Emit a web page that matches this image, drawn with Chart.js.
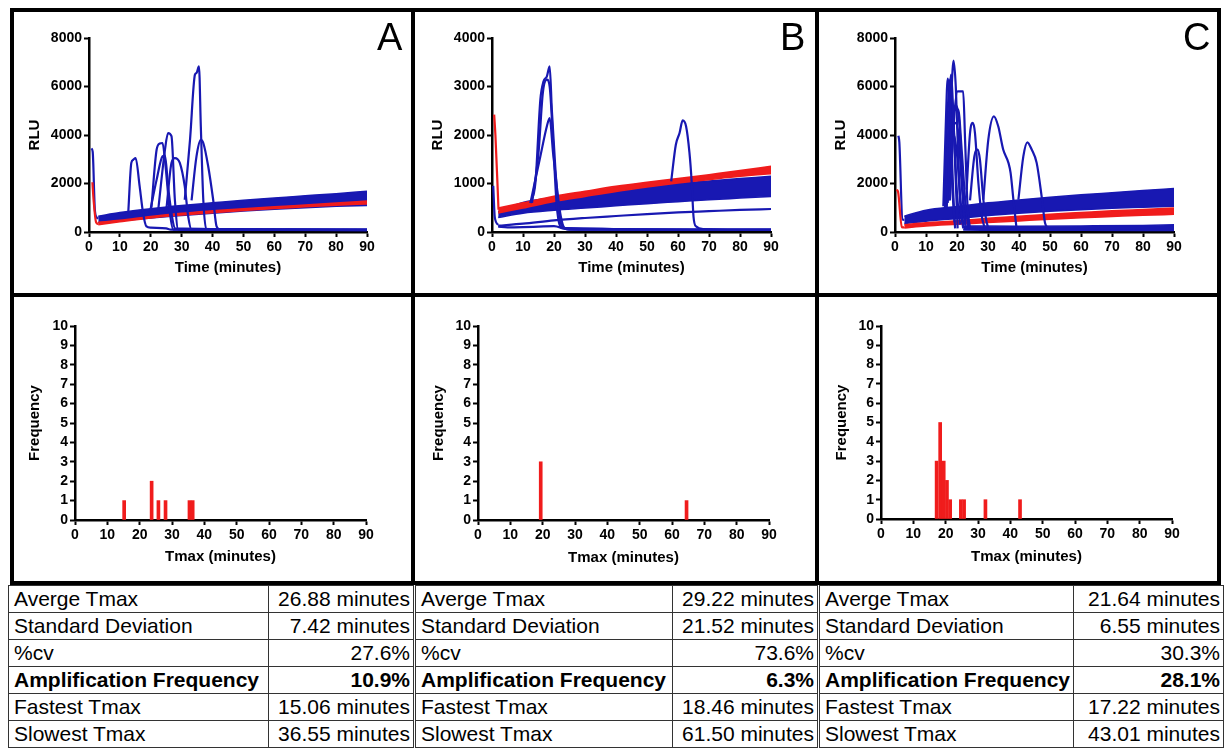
<!DOCTYPE html>
<html>
<head>
<meta charset="utf-8">
<script src="https://cdn.jsdelivr.net/npm/chart.js@4.4.1/dist/chart.umd.min.js"></script>
<style>
  body { margin: 0; background: #fff; width: 1224px; height: 748px; position: relative; overflow: hidden;
         font-family: 'Liberation Sans', Arial, sans-serif; }
  canvas { position: absolute; }
  .frame { position: absolute; background: #000; }
  .letter { position: absolute; font-size: 38px; line-height: 38px; color: #000; }
  table.stats { position: absolute; top: 585px; border-collapse: collapse; table-layout: fixed; font-size: 21px; color: #000; }
  table.stats td { border: 1px solid #333; height: 26px; line-height: 26px; padding: 0; white-space: nowrap; overflow: hidden; }
  table.stats td.lab { padding-left: 5px; }
  table.stats td.val { text-align: right; padding-right: 3px; }
  table.stats tr.bold td { font-weight: bold; }
</style>
</head>
<body>

<div class="frame" style="left:10px;top:8px;width:1211px;height:4px"></div>
<div class="frame" style="left:10px;top:293px;width:1211px;height:4px"></div>
<div class="frame" style="left:10px;top:581px;width:1211px;height:4px"></div>
<div class="frame" style="left:10px;top:8px;width:4px;height:577px"></div>
<div class="frame" style="left:411px;top:8px;width:4px;height:577px"></div>
<div class="frame" style="left:815px;top:8px;width:4px;height:577px"></div>
<div class="frame" style="left:1217px;top:8px;width:4px;height:577px"></div>

<canvas id="lineA" width="397" height="281" style="left:14px;top:12px"></canvas>
<canvas id="lineB" width="398" height="281" style="left:417px;top:12px"></canvas>
<canvas id="lineC" width="396" height="281" style="left:821px;top:12px"></canvas>
<canvas id="histA" width="397" height="284" style="left:14px;top:297px"></canvas>
<canvas id="histB" width="398" height="284" style="left:417px;top:297px"></canvas>
<canvas id="histC" width="396" height="284" style="left:821px;top:297px"></canvas>

<div class="letter" style="left:377px;top:18px">A</div>
<div class="letter" style="left:780px;top:18px">B</div>
<div class="letter" style="left:1183px;top:18px">C</div>

<div id="tables"></div>

<script>
// ---- Datos: curvas RLU (tiempo en minutos, RLU) ----
// Panel A
const aBlueLow  = [[3,380],[10,470],[20,580],[30,680],[40,780],[50,870],[60,940],[70,1000],[80,1060],[90,1100]];
const aBlueHigh = [[3,650],[10,800],[20,960],[30,1090],[40,1200],[50,1310],[60,1400],[70,1490],[80,1580],[90,1680]];
const aRedLow   = [[3,300],[10,420],[20,580],[30,700],[40,800],[50,890],[60,970],[70,1040],[80,1110],[90,1160]];
const aRedHigh  = [[3,400],[10,480],[20,640],[30,770],[40,870],[50,960],[60,1040],[70,1110],[80,1190],[90,1280]];
const aBlueStart = [[0.8,3450],[1.2,3300],[1.9,900],[2.5,600],[3,550]];
const aRedStart  = [[1.1,2050],[1.5,1300],[2.3,400],[3,330]];
const aPeaks = [
  [[12.7,780],[13.7,2850],[14.3,2980],[15.1,3050],[16.4,1880],[17.5,780],[18.6,230],[20,180],[25,150],[26.5,100],[40,100],[90,80]],
  [[20.2,1000],[21.9,3400],[22.9,3650],[23.8,3670],[24.8,2700],[26.2,780],[27.3,100],[90,80]],
  [[19.7,800],[21.9,2160],[23.8,3120],[24.6,3150],[25.6,1880],[26.8,700],[27.8,150],[90,90]],
  [[22.4,900],[24.6,3400],[25.6,4080],[26.7,3950],[27.8,1330],[28.9,100],[90,90]],
  [[25.1,1000],[26.7,2850],[27.8,3050],[29.4,2850],[31,1880],[32.1,650],[33.2,100],[90,90]],
  [[31,1330],[32.7,3800],[34.3,6490],[34.8,6560],[35.6,6830],[36.2,4360],[37,1330],[38,100],[90,90]],
  [[33.2,1300],[34.8,3120],[36.2,3800],[37,3670],[38.6,2700],[40.2,1330],[41.3,230],[42.4,110],[90,100]]
];

// Panel B
const bBlueLow  = [[2,300],[10,390],[20,450],[30,495],[40,540],[50,585],[60,625],[70,665],[80,700],[90,735]];
const bBlueHigh = [[2,420],[10,610],[20,710],[30,800],[40,870],[50,940],[60,1000],[70,1050],[80,1100],[90,1150]];
const bRedLow   = [[2,392],[10,495],[20,630],[30,735],[40,838],[50,928],[60,1010],[70,1080],[80,1148],[90,1203]];
const bRedHigh  = [[2,495],[10,600],[20,735],[30,838],[40,940],[50,1024],[60,1100],[70,1182],[80,1265],[90,1354]];
const bBlueStart = [[0.4,950],[0.9,300],[2,150]];
const bRedStart  = [[0.7,2420],[1.1,2000],[2.1,460]];
const bLow = [
  [[2,130],[10,172],[20,240],[30,289],[40,330],[50,370],[60,405],[70,430],[80,455],[90,474]],
  [[2,110],[5,95],[10,100],[15,110],[20,120],[24,60],[30,50],[90,45]]
];
const bPeaks = [
  [[12.4,600],[14,1010],[15.6,2730],[16.6,3100],[17.7,3210],[18.6,3415],[19.3,2520],[20.4,1350],[21.5,460],[22.6,117],[25.2,50],[90,45]],
  [[12.9,600],[15,1630],[16.4,2870],[17.7,3140],[18.6,3000],[19.9,1630],[20.9,530],[22.6,80],[90,45]],
  [[12.4,600],[15.6,1560],[17.7,2180],[18.6,2350],[19.7,1630],[20.9,940],[22.2,320],[23.6,80],[90,45]],
  [[57.8,1045],[59.3,1800],[60.5,2040],[61.5,2300],[62.6,2180],[63.7,1630],[64.4,1045],[65,320],[65.8,117],[68.2,62],[90,50]]
];

// Panel C
const cBlueLow  = [[3,350],[10,450],[20,560],[30,680],[40,780],[50,860],[60,920],[70,980],[80,1020],[90,1060]];
const cBlueHigh = [[3,650],[10,900],[20,1050],[30,1200],[40,1320],[50,1430],[60,1530],[70,1620],[80,1710],[90,1790]];
const cRedLow   = [[3,170],[10,250],[20,320],[30,390],[40,460],[50,530],[60,590],[70,640],[80,690],[90,730]];
const cRedHigh  = [[3,300],[10,380],[20,460],[30,560],[40,650],[50,730],[60,800],[70,870],[80,930],[90,990]];
const cFloorLow  = [[22,80],[40,70],[60,70],[90,60]];
const cFloorHigh = [[22,250],[40,240],[60,250],[80,270],[90,300]];
const cBlueStart = [[1.1,3970],[1.4,3700],[2.4,520],[3,500]];
const cRedStart  = [[0.5,1750],[1,1650],[2.2,200],[3,190]];
const cPeaks = [
  [[15.6,1060],[16.3,4080],[17,6330],[17.7,5460],[18.5,1880],[19.4,150]],
  [[16.1,1000],[17.4,4770],[18.1,6490],[18.6,5460],[19.4,2750],[20.2,150]],
  [[16.7,1000],[18.1,5460],[18.9,7070],[19.6,6010],[20.2,3810],[21.1,1060],[22,150]],
  [[17.7,1300],[19.1,4770],[20.2,5800],[22,5800],[22.6,3810],[23.4,1060],[24.2,150]],
  [[17.2,1300],[19.1,5050],[20.4,5050],[21.5,3400],[22.8,1060],[23.7,150]],
  [[16.5,1200],[18,3500],[19.5,4500],[20.5,4000],[21.5,2000],[22.5,300]],
  [[16,1100],[17.5,3000],[19,4000],[20,3200],[21,1500],[22,250]],
  [[15.8,1100],[17,5000],[17.8,6300],[18.4,3000],[19.2,400]],
  [[16.3,1000],[17.2,3800],[18.2,5600],[19,4200],[20,1600],[21,300]],
  [[17,1200],[18.5,4300],[19.8,5200],[20.8,4400],[21.8,1800],[22.8,250]],
  [[23.1,1750],[24.2,4080],[25.1,4500],[25.8,4080],[26.9,2020],[28,650],[29,150]],
  [[24.2,1300],[25.6,3120],[26.7,3400],[27.4,2980],[28.5,1330],[29.4,510],[30.1,150]],
  [[28.5,1330],[30.1,3810],[31.9,4770],[33.3,4360],[34.9,3400],[36.6,2850],[37.3,2430],[38.2,1330],[39.2,150]],
  [[39.8,1330],[41.4,3120],[42.7,3700],[44.1,3400],[45.7,2850],[47.3,1470],[48.4,370],[49.5,150]]
];

// ---- Datos: histogramas de Tmax ----
const hAx = [15.2, 23.7, 25.8, 28.0, 35.4, 36.4];
const hAy = [1, 2, 1, 1, 1, 1];
const hBx = [19.4, 64.5];
const hBy = [3, 1];
const hCx = [17.2, 18.3, 19.4, 20.4, 21.4, 24.7, 25.7, 32.3, 43.0];
const hCy = [3, 5, 3, 2, 1, 1, 1, 1, 1];

// ---- Datos: tabla ----
const statLabels = ['Averge Tmax', 'Standard Deviation', '%cv', 'Amplification Frequency', 'Fastest Tmax', 'Slowest Tmax'];
const statsA = ['26.88 minutes', '7.42 minutes', '27.6%', '10.9%', '15.06 minutes', '36.55 minutes'];
const statsB = ['29.22 minutes', '21.52 minutes', '73.6%', '6.3%', '18.46 minutes', '61.50 minutes'];
const statsC = ['21.64 minutes', '6.55 minutes', '30.3%', '28.1%', '17.22 minutes', '43.01 minutes'];

const BLUE = '#1818b2';
const RED = '#f01c1c';
const tickFont = { family: 'Liberation Sans', size: 14, weight: 'bold' };
const titleFont = { family: 'Liberation Sans', size: 15, weight: 'bold' };

// ---- Ejes estilo Prism ----
function prismAxis(title, min, max, step, fitSize, horizontal) {
  return {
    type: 'linear', min, max, offset: false,
    ticks: { stepSize: step, font: tickFont, color: '#000', padding: horizontal ? 2 : 2,
             autoSkip: false, maxRotation: 0, callback: v => v },
    grid: { display: true, drawOnChartArea: false, drawTicks: true, tickLength: 5,
            tickWidth: 2, tickColor: '#000', offset: false },
    border: { display: true, color: '#000', width: 2.5 },
    title: { display: true, text: title, font: titleFont, color: '#000', padding: 0 },
    afterFit: s => { if (horizontal) s.height = fitSize; else s.width = fitSize; }
  };
}

function trace(data, color, width, order) {
  return { data, borderColor: color, borderWidth: width, pointRadius: 0, fill: false,
           cubicInterpolationMode: 'monotone', order };
}

// banda rellena entre dos curvas (low debe ir justo antes que high)
function band(low, high, color, order) {
  return [
    trace(low, color, 1.6, order),
    { ...trace(high, color, 1.6, order), fill: '-1', backgroundColor: color }
  ];
}

function lineChart(id, cfg) {
  const datasets = [
    ...cfg.peaks.map(p => trace(p, BLUE, 2.2, 1)),
    ...(cfg.low || []).map(p => trace(p, BLUE, 2.2, 2)),
    trace(cfg.redStart, RED, 2.2, 2),
    trace(cfg.blueStart, BLUE, 2.2, 3),
    ...band(cfg.redLow, cfg.redHigh, RED, 2),
    ...band(cfg.blueLow, cfg.blueHigh, BLUE, 3)
  ];
  if (cfg.floorLow) datasets.push(...band(cfg.floorLow, cfg.floorHigh, BLUE, 3));

  new Chart(document.getElementById(id), {
    type: 'line',
    data: { datasets },
    options: {
      responsive: false, animation: false, events: [],
      layout: { padding: cfg.padding },
      plugins: { legend: { display: false }, tooltip: { enabled: false } },
      scales: {
        x: prismAxis('Time (minutes)', 0, 90, 10, cfg.xh, true),
        y: prismAxis('RLU', 0, cfg.ymax, cfg.ystep, cfg.yw, false)
      }
    }
  });
}

function histChart(id, xs, ys, cfg) {
  new Chart(document.getElementById(id), {
    type: 'bar',
    data: {
      datasets: [{
        data: xs.map((x, i) => ({ x, y: ys[i] })),
        backgroundColor: RED, borderWidth: 0, barThickness: 3
      }]
    },
    options: {
      responsive: false, animation: false, events: [],
      layout: { padding: cfg.padding },
      plugins: { legend: { display: false }, tooltip: { enabled: false } },
      scales: {
        x: prismAxis('Tmax (minutes)', 0, 90, 10, cfg.xh, true),
        y: prismAxis('Frequency', 0, 10, 1, cfg.yw, false)
      }
    }
  });
}

lineChart('lineA', {
  peaks: aPeaks, redStart: aRedStart, blueStart: aBlueStart,
  redLow: aRedLow, redHigh: aRedHigh, blueLow: aBlueLow, blueHigh: aBlueHigh,
  ymax: 8000, ystep: 2000, yw: 63, xh: 45,
  padding: { left: 12, top: 26, right: 44, bottom: 16 }
});
lineChart('lineB', {
  peaks: bPeaks, low: bLow, redStart: bRedStart, blueStart: bBlueStart,
  redLow: bRedLow, redHigh: bRedHigh, blueLow: bBlueLow, blueHigh: bBlueHigh,
  ymax: 4000, ystep: 1000, yw: 63, xh: 45,
  padding: { left: 12, top: 26, right: 44, bottom: 16 }
});
lineChart('lineC', {
  peaks: cPeaks, redStart: cRedStart, blueStart: cBlueStart,
  redLow: cRedLow, redHigh: cRedHigh, blueLow: cBlueLow, blueHigh: cBlueHigh,
  floorLow: cFloorLow, floorHigh: cFloorHigh,
  ymax: 8000, ystep: 2000, yw: 63, xh: 45,
  padding: { left: 11, top: 26, right: 43, bottom: 16 }
});

histChart('histA', hAx, hAy, { yw: 49, xh: 46, padding: { left: 12, top: 29, right: 45, bottom: 15 } });
histChart('histB', hBx, hBy, { yw: 48, xh: 47, padding: { left: 13, top: 29, right: 46, bottom: 14 } });
histChart('histC', hCx, hCy, { yw: 48, xh: 47, padding: { left: 12, top: 29, right: 45, bottom: 15 } });

// ---- Tablas de estadísticas ----
function statsTable(values, left, width, labW) {
  const rows = statLabels.map((lab, i) =>
    `<tr class="${i === 3 ? 'bold' : ''}"><td class="lab">${lab}</td><td class="val">${values[i]}</td></tr>`
  ).join('');
  return `<table class="stats" style="left:${left}px;width:${width}px">
    <colgroup><col style="width:${labW}px"><col style="width:${width - labW}px"></colgroup>${rows}</table>`;
}

document.getElementById('tables').innerHTML =
  statsTable(statsA, 8, 405, 260) +
  statsTable(statsB, 415, 402, 257) +
  statsTable(statsC, 819, 404, 254);
</script>
</body>
</html>
